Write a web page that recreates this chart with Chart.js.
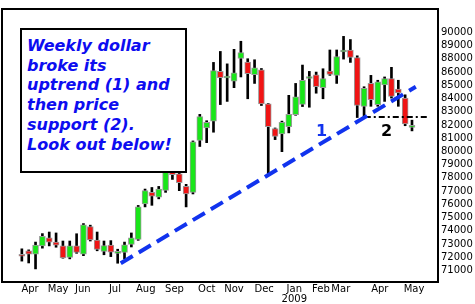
<!DOCTYPE html>
<html>
<head>
<meta charset="utf-8">
<script src="https://cdn.jsdelivr.net/npm/chart.js@4"></script>
<style>
    body { margin: 0; background: #fff; }
    #wrap { position: relative; width: 475px; height: 304px; }
    #note {
        position: absolute; left: 20px; top: 28px; width: 167px; height: 145px;
        box-sizing: border-box; border: 2px solid #000; background: #fff;
        padding: 6px 0 0 5px; color: #0d0df0;
        font: italic bold 16px "DejaVu Sans", sans-serif; line-height: 19.7px;
        white-space: nowrap;
    }
</style>
</head>
<body>
<div id="wrap">
    <canvas id="candles" width="475" height="304"></canvas>
    <div id="note">Weekly dollar<br>broke its<br>uptrend (1) and<br>then price<br>support (2).<br>Look out below!</div>
</div>
<script>
const UPCOLOR = "#19e619";
const DOWNCOLOR = "#f01414";
const TRENDCOLOR = "#1133ee";
const FONT = "DejaVu Sans";

// weekly candles, late Mar 2008 .. early May 2009
const opens = [72220, 72480, 72220, 72850, 73470, 73140, 72850, 71980, 72850, 72230,
    74320, 73290, 72440, 72920, 72280, 72350, 72970, 73340, 76020, 76900,
    76530, 77050, 78530, 78300, 77350, 76900, 80830, 81770, 82290, 86050,
    85550, 85310, 87030, 86760, 85800, 86160, 83590, 81720, 81330, 81870,
    82770, 83560, 85510, 85800, 84820, 86070, 85750, 87520, 87670, 87100,
    83410, 85140, 83540, 85020, 85510, 84720, 84030, 81820];
const highs = [72630, 72550, 73140, 73780, 73900, 73830, 73220, 73220, 73770, 74540,
    74420, 73900, 73220, 73250, 72600, 73140, 73830, 75910, 77150, 77270,
    77350, 78750, 78890, 78670, 77510, 80790, 82800, 82320, 86730, 87560,
    86620, 87720, 88330, 87010, 86930, 86270, 83620, 81770, 82290, 84240,
    85140, 86530, 86050, 86000, 86250, 87670, 87670, 88700, 88460, 87230,
    84890, 85750, 85380, 85630, 86360, 85380, 84280, 82360];
const lows = [71700, 71560, 71110, 72680, 72850, 72750, 71920, 71870, 72290, 72110,
    73220, 72480, 72180, 72040, 71540, 71870, 72770, 73270, 75800, 75920,
    76410, 76900, 77880, 77030, 75800, 76780, 80370, 80660, 81450, 83540,
    83780, 84820, 85630, 83980, 85140, 83470, 78300, 80890, 79980, 81400,
    82730, 83390, 83340, 84400, 83980, 85750, 85140, 86980, 86730, 82560,
    82560, 83410, 83410, 83780, 84030, 83410, 81940, 81550];
const closes = [72070, 72220, 72920, 73580, 73140, 72900, 71940, 72850, 72350, 74450,
    73310, 72590, 72880, 72370, 72350, 72940, 73460, 75800, 77030, 76610,
    77150, 78530, 78230, 77640, 76780, 80720, 82630, 82190, 86120, 85570,
    85630, 85950, 87470, 85880, 86320, 83590, 81870, 81130, 82190, 82800,
    84130, 85380, 85630, 84890, 85510, 85830, 87180, 87600, 87100, 83470,
    84770, 83910, 85260, 85510, 84150, 84430, 82070, 81880];

// x axis month labels (in week units)
const monthWeeks = [1.2, 5.3, 8.9, 13.6, 18.1, 22.3, 27.0, 31.0, 35.4, 39.8, 43.7, 46.6, 52.3, 57.3];
const monthLabels = ["Apr", "May", "Jun", "Jul", "Aug", "Sep", "Oct", "Nov", "Dec", ["Jan", "2009"], "Feb", "Mar", "Apr", "May"];

// right axis, labels as printed on the original
const yTickValues = [71000, 72000, 73000, 74000, 75000, 76000, 77000, 78000, 79000, 80000,
    81000, 82000, 83000, 84000, 85000, 86000, 87000, 88000, 89000];
const yTickLabels = ["71000", "72000", "73000", "74000", "75000", "76000", "77000", "78000", "79000", "80000",
    "81000", "82000", "83000", "84000", "85000", "86000", "88000", "89000", "90000"];

// uptrend (1) and support (2)
const trendWeeks = [14.45, 57.56];
const trendValues = [71540, 84890];
const supportWeeks = [50.1, 59.6];
const supportValues = [82600, 82600];
const noteTexts = ["1", "2"];
const noteColors = [TRENDCOLOR, "#000"];
const noteWeeks = [43.8, 53.3];
const noteValues = [81480, 81480];

const frame = {
    id: "frame",
    afterDatasetsDraw(chart) {
        const ctx = chart.ctx;
        const xs = chart.scales.x, ys = chart.scales.y;
        ctx.save();
        ctx.font = "bold 16px " + FONT;
        ctx.textAlign = "center";
        ctx.textBaseline = "middle";
        noteTexts.forEach((t, i) => {
            ctx.fillStyle = noteColors[i];
            ctx.fillText(t, xs.getPixelForValue(noteWeeks[i]), ys.getPixelForValue(noteValues[i]));
        });
        const a = chart.chartArea;
        ctx.strokeStyle = "#000";
        ctx.lineWidth = 2;
        ctx.strokeRect(a.left, a.top, a.right - a.left, a.bottom - a.top);
        ctx.restore();
    }
};

function makeCandles() {
    const ctx = document.querySelector("#candles").getContext("2d");
    const wicks = lows.map((l, i) => ({ x: i, y: [l, highs[i]] }));
    const bodies = opens.map((o, i) => ({ x: i, y: [o, closes[i]] }));
    const bodyColors = opens.map((o, i) => closes[i] >= o ? UPCOLOR : DOWNCOLOR);

    const configuration = {
        type: "bar",
        data: {
            datasets: [{
                data: wicks,
                backgroundColor: "#000",
                barThickness: 2,
                grouped: false,
                order: 3
            }, {
                data: bodies,
                backgroundColor: bodyColors,
                borderColor: "#9a9a9a",
                borderWidth: 1,
                borderSkipped: false,
                barThickness: 6,
                minBarLength: 2,
                grouped: false,
                order: 2
            }, {
                type: "line",
                data: trendWeeks.map((w, i) => ({ x: w, y: trendValues[i] })),
                borderColor: TRENDCOLOR,
                borderWidth: 4,
                borderDash: [14, 7],
                pointRadius: 0,
                fill: false,
                order: 1
            }, {
                type: "line",
                data: supportWeeks.map((w, i) => ({ x: w, y: supportValues[i] })),
                borderColor: "#000",
                borderWidth: 2,
                borderDash: [6, 3, 2, 3],
                pointRadius: 0,
                fill: false,
                order: 1
            }]
        },
        options: {
            responsive: false,
            animation: false,
            devicePixelRatio: 1,
            layout: { padding: { left: 2, top: 2, right: 0, bottom: 0 } },
            scales: {
                x: {
                    type: "linear",
                    min: -2.9,
                    max: 60.8,
                    offset: false,
                    grid: { display: false, drawTicks: false },
                    border: { display: false },
                    afterBuildTicks: (scale) => { scale.ticks = monthWeeks.map(v => ({ value: v })); },
                    afterFit: (scale) => { scale.height = 22; },
                    ticks: {
                        autoSkip: false,
                        maxRotation: 0,
                        padding: 2,
                        color: "#000",
                        font: { family: FONT, size: 10, lineHeight: 1.0 },
                        callback: (value, index) => monthLabels[index]
                    }
                },
                y: {
                    type: "linear",
                    position: "right",
                    min: 70120,
                    max: 90770,
                    grid: { display: false, drawTicks: false },
                    border: { display: false },
                    afterBuildTicks: (scale) => { scale.ticks = yTickValues.map(v => ({ value: v })); },
                    afterFit: (scale) => { scale.width = 37; },
                    ticks: {
                        padding: 3,
                        color: "#000",
                        font: { family: FONT, size: 10 },
                        callback: (value, index) => yTickLabels[index]
                    }
                }
            },
            plugins: {
                legend: { display: false },
                tooltip: { enabled: false }
            }
        },
        plugins: [frame]
    };
    new Chart(ctx, configuration);
}

makeCandles();
</script>
</body>
</html>
